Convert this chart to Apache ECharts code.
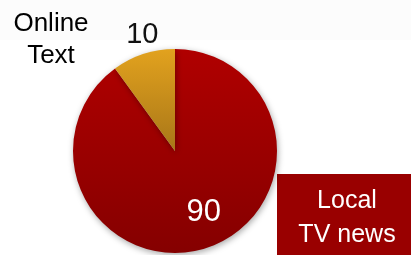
<!DOCTYPE html>
<html>
<head>
<meta charset="utf-8">
<script src="https://cdn.jsdelivr.net/npm/echarts@6/dist/echarts.min.js"></script>
<style>
  html, body { margin: 0; padding: 0; background: #fff; }
  #chart { width: 411px; height: 255px; }
</style>
</head>
<body>
<div id="chart"></div>
<script>
// data
var categories = ['Local TV news', 'Online Text'];
var values = [90, 10];
var labelLines = [['Local', 'TV news'], ['Online', 'Text']];

var chart = echarts.init(document.getElementById('chart'));

var grad = function (top, bottom) {
  return new echarts.graphic.LinearGradient(0, 0, 0, 1, [
    { offset: 0, color: top },
    { offset: 1, color: bottom }
  ]);
};

var fontFam = '"Liberation Sans", Arial, sans-serif';

chart.setOption({
  backgroundColor: '#ffffff',
  animation: false,
  graphic: [
    {
      type: 'rect',
      x: 0, y: 0, z: -10,
      shape: { width: 411, height: 40 },
      style: { fill: '#fcfcfc' }
    },
    {
      type: 'text',
      x: 51, y: 8,
      style: {
        text: labelLines[1].join('\n'),
        font: '26px ' + fontFam,
        fill: '#000',
        align: 'center',
        verticalAlign: 'top',
        lineHeight: 32
      }
    },
    {
      type: 'rect',
      x: 277, y: 174,
      shape: { width: 134, height: 81 },
      style: { fill: '#990000' }
    },
    {
      type: 'text',
      x: 347, y: 184,
      style: {
        text: labelLines[0].join('\n'),
        font: '25px ' + fontFam,
        fill: '#fff',
        align: 'center',
        verticalAlign: 'top',
        lineHeight: 34
      }
    }
  ],
  series: [
    {
      type: 'pie',
      center: [175, 151],
      radius: 102,
      startAngle: 90,
      clockwise: true,
      silent: true,
      itemStyle: {
        shadowBlur: 6,
        shadowOffsetX: 1,
        shadowOffsetY: 2,
        shadowColor: 'rgba(0,0,0,0.35)'
      },
      labelLine: { show: false },
      data: [
        {
          name: categories[0],
          value: values[0],
          itemStyle: { color: grad('#b00000', '#850000') },
          label: {
            show: true,
            position: 'inside',
            formatter: '{c}',
            offset: [12, 10],
            color: '#fff',
            fontSize: 31,
            fontFamily: fontFam
          }
        },
        {
          name: categories[1],
          value: values[1],
          itemStyle: { color: grad('#e2a21e', '#a87618') },
          label: {
            show: true,
            position: 'inside',
            formatter: '{c}',
            offset: [-16, -65],
            color: '#111',
            fontSize: 29,
            fontFamily: fontFam
          }
        }
      ]
    }
  ]
});
</script>
</body>
</html>
